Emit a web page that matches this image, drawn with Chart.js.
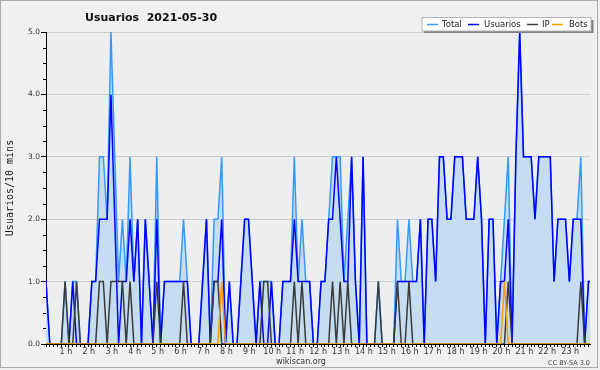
<!doctype html>
<html>
<head>
<meta charset="utf-8">
<title>Usuarios 2021-05-30</title>
<script src="https://cdn.jsdelivr.net/npm/chart.js@4.4.1/dist/chart.umd.min.js"></script>
<style>
  body{margin:0;background:#f0f0f0;}
  #chart{display:block;}
</style>
</head>
<body>
<canvas id="chart" width="600" height="370"></canvas>
<script>
// 144 ten-minute slots (00:00 .. 23:50), x value = slot index
const slots = Array.from({length: 144}, (_, i) => i);
const hourLabels = ['1 h','2 h','3 h','4 h','5 h','6 h','7 h','8 h','9 h','10 h','11 h','12 h',
                    '13 h','14 h','15 h','16 h','17 h','18 h','19 h','20 h','21 h','22 h','23 h'];
const yLabels = ['0.0','1.0','2.0','3.0','4.0','5.0'];

const total = [
  1,0,0,0,0,1,0,1,1,0,  0,0,1,1,3,3,2,5,3,1,
  2,1,3,1,2,0,2,1,0,3,  0,1,1,1,1,1,2,1,0,0,
  0,1,2,0,2,2,3,0,1,0,  0,1,2,2,1,0,1,1,1,1,
  0,0,1,1,1,3,1,2,1,1,  0,0,1,1,2,3,3,3,1,2,
  3,1,0,3,0,0,0,1,0,0,  0,0,2,1,1,2,1,1,2,0,
  2,2,1,3,3,2,2,3,3,3,  2,2,2,3,2,0,2,2,0,1,
  2,3,0,3,5,3,3,3,2,3,  3,3,3,1,2,2,2,1,2,2,
  3,0,1,1
];
const usuarios = [
  1,0,0,0,0,0,0,1,0,0,  0,0,1,1,2,2,2,4,2,0,
  1,1,2,1,2,0,2,1,0,2,  0,1,1,1,1,1,1,1,0,0,
  0,1,2,0,1,1,2,0,1,0,  0,1,2,2,1,0,1,0,0,1,
  0,0,1,1,1,2,1,1,1,1,  0,0,1,1,2,2,3,2,1,1,
  3,1,0,3,0,0,0,0,0,0,  0,0,1,1,1,1,1,1,2,0,
  2,2,1,3,3,2,2,3,3,3,  2,2,2,3,2,0,2,2,0,1,
  1,2,0,3,5,3,3,3,2,3,  3,3,3,1,2,2,2,1,2,2,
  2,0,1,1
];
const ip = [
  0,0,0,0,0,1,0,0,1,0,  0,0,0,0,1,1,0,1,1,1,
  1,0,1,0,0,0,0,0,0,1,  0,0,0,0,0,0,1,0,0,0,
  0,0,0,0,1,1,0,0,0,0,  0,0,0,0,0,0,0,1,1,0,
  0,0,0,0,0,1,0,1,0,0,  0,0,0,0,0,1,0,1,0,1,
  0,0,0,0,0,0,0,1,0,0,  0,0,1,0,0,1,0,0,0,0,
  0,0,0,0,0,0,0,0,0,0,  0,0,0,0,0,0,0,0,0,0,
  0,1,0,0,0,0,0,0,0,0,  0,0,0,0,0,0,0,0,0,0,
  1,0,0,0
];
const bots = [
  0,0,0,0,0,0,0,0,0,0,  0,0,0,0,0,0,0,0,0,0,
  0,0,0,0,0,0,0,0,0,0,  0,0,0,0,0,0,0,0,0,0,
  0,0,0,0,0,0,1,0,0,0,  0,0,0,0,0,0,0,0,0,0,
  0,0,0,0,0,0,0,0,0,0,  0,0,0,0,0,0,0,0,0,0,
  0,0,0,0,0,0,0,0,0,0,  0,0,0,0,0,0,0,0,0,0,
  0,0,0,0,0,0,0,0,0,0,  0,0,0,0,0,0,0,0,0,0,
  1,0,0,0,0,0,0,0,0,0,  0,0,0,0,0,0,0,0,0,0,
  0,0,0,0
];

const FONT = 'DejaVu Sans';
const series = [
  {label: 'Total',    color: '#3399ff'},
  {label: 'Usuarios', color: '#0000ff'},
  {label: 'IP',       color: '#3a3a3a'},
  {label: 'Bots',     color: '#ff9900'}
];

// background, title, legend box, footer texts, minor y ticks
const decor = {
  id: 'decor',
  beforeDraw(chart) {
    const {ctx, chartArea: a} = chart;
    ctx.save();
    ctx.fillStyle = '#f0f0f0';
    ctx.fillRect(0, 0, chart.width, chart.height);
    ctx.fillStyle = '#edeef0';
    ctx.fillRect(a.left, a.top, a.right - a.left, a.bottom - a.top);
    ctx.restore();
  },
  afterDraw(chart) {
    const {ctx, chartArea: a} = chart;
    const y = chart.scales.y;
    ctx.save();

    // minor y ticks every 0.25
    ctx.strokeStyle = '#000';
    ctx.lineWidth = 1;
    ctx.beginPath();
    for (let v = 0.25; v < 5; v += 0.25) {
      if (Number.isInteger(v)) continue;
      const py = Math.round(y.getPixelForValue(v)) + 0.5;
      ctx.moveTo(a.left - 3, py);
      ctx.lineTo(a.left, py);
    }
    ctx.stroke();

    // title
    ctx.fillStyle = '#111';
    ctx.font = 'bold 11px ' + FONT;
    ctx.textBaseline = 'alphabetic';
    ctx.textAlign = 'left';
    ctx.fillText('Usuarios  2021-05-30', 85, 20.5);

    // legend box with shadow
    ctx.fillStyle = '#808080';
    ctx.fillRect(424, 20, 169.5, 13);
    ctx.fillStyle = '#fff';
    ctx.fillRect(422, 17.5, 169, 13.5);
    ctx.strokeStyle = '#b4b4b4';
    ctx.strokeRect(422, 17.5, 169, 13.5);
    const legendX = [[427, 442], [468, 484], [527, 542], [552, 569]];
    ctx.font = '8.5px ' + FONT;
    ctx.textBaseline = 'middle';
    series.forEach((s, i) => {
      const [lx, tx] = legendX[i];
      ctx.strokeStyle = s.color;
      ctx.lineWidth = 1.5;
      ctx.beginPath();
      ctx.moveTo(lx, 24.5);
      ctx.lineTo(lx + 11, 24.5);
      ctx.stroke();
      ctx.fillStyle = '#222';
      ctx.fillText(s.label, tx, 24.5);
    });

    // footer
    ctx.textBaseline = 'alphabetic';
    ctx.fillStyle = '#333';
    ctx.font = '8px ' + FONT;
    ctx.textAlign = 'center';
    ctx.fillText('wikiscan.org', 301, 364);
    ctx.font = '6.5px ' + FONT;
    ctx.textAlign = 'right';
    ctx.fillStyle = '#444';
    ctx.fillText('CC BY-SA 3.0', 590, 365);

    // outer frame
    ctx.strokeStyle = '#a8a8a8';
    ctx.lineWidth = 1;
    ctx.strokeRect(0.5, 0.5, 597, 367);
    ctx.restore();
  }
};

const data = [total, usuarios, ip, bots];

new Chart(document.getElementById('chart'), {
  type: 'line',
  data: {
    labels: slots,
    datasets: series.map((s, i) => ({
      label: s.label,
      data: data[i],
      borderColor: s.color,
      backgroundColor: i === 0 ? '#c6ddf1' : s.color,
      fill: i === 0 ? 'origin' : false,
      borderWidth: 1.5,
      pointRadius: 0,
      tension: 0,
      order: 4 - i
    }))
  },
  options: {
    responsive: false,
    devicePixelRatio: 1,
    animation: false,
    events: [],
    layout: {padding: {top: 32, right: 10, left: 0, bottom: 0}},
    plugins: {legend: {display: false}, tooltip: {enabled: false}},
    scales: {
      x: {
        type: 'linear',
        min: 0,
        max: 142.4,
        z: 1,
        afterFit: s => { s.height = 26; },
        border: {display: true, color: '#000', width: 1},
        grid: {drawOnChartArea: false, drawTicks: true, tickLength: 3, tickColor: '#000'},
        ticks: {
          stepSize: 1,
          autoSkip: false,
          includeBounds: false,
          maxRotation: 0,
          padding: 0,
          labelOffset: -3,
          color: '#333',
          font: {family: FONT, size: 8},
          callback: v => (v % 6 === 0 && v > 0) ? hourLabels[v / 6 - 1] : ''
        }
      },
      y: {
        min: 0,
        max: 5,
        z: 1,
        afterFit: s => { s.width = 46; },
        border: {display: true, color: '#000', width: 1},
        grid: {
          color: c => c.tick && c.tick.value > 0 ? '#cccccc' : 'rgba(0,0,0,0)',
          drawTicks: true, tickLength: 5, tickColor: '#000'
        },
        ticks: {
          stepSize: 1,
          padding: 1,
          color: '#333',
          font: {family: FONT, size: 7.5},
          callback: v => yLabels[v]
        },
        title: {
          display: true,
          text: 'Usuarios/10 mins',
          color: '#222',
          font: {family: 'DejaVu Sans Mono', size: 10},
          padding: {top: 4, bottom: 0}
        }
      }
    }
  },
  plugins: [decor]
});
</script>
</body>
</html>
